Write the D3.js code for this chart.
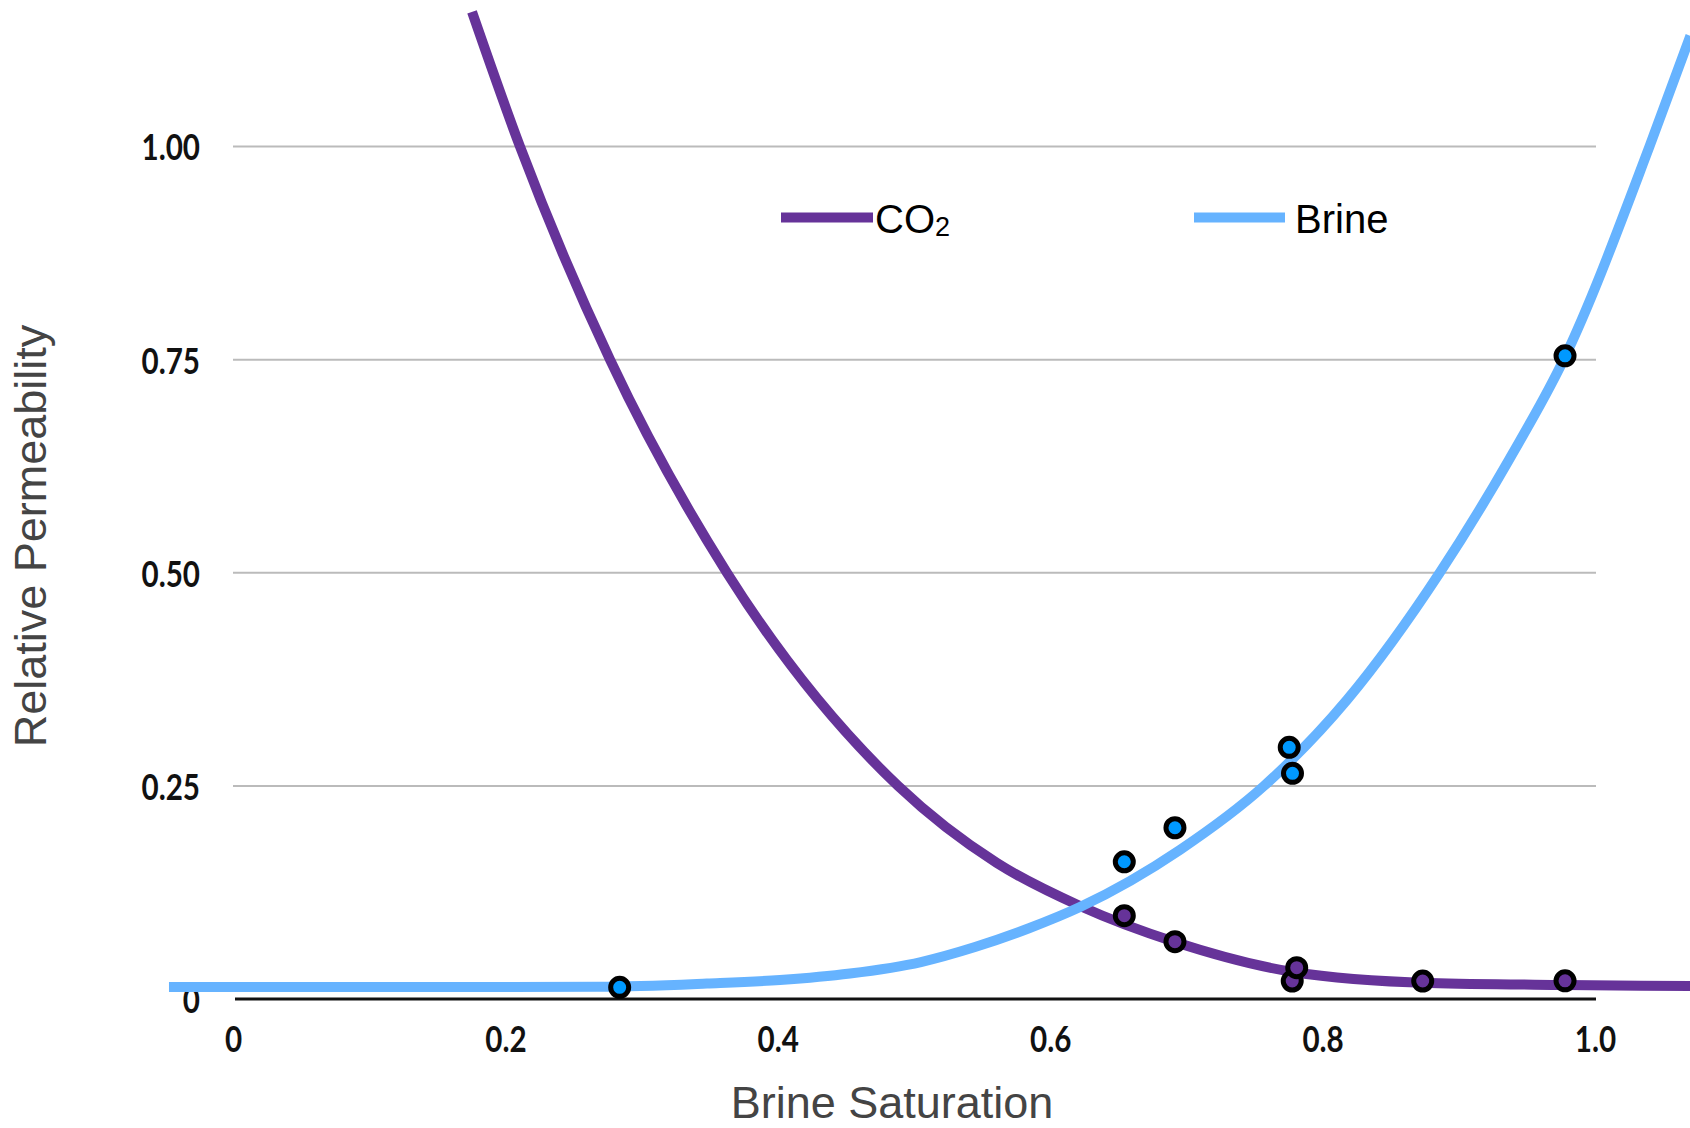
<!DOCTYPE html>
<html lang="en">
<head>
    <meta charset="UTF-8">
    <title>Relative Permeability</title>
    <style>
        body {
            margin: 0;
            background: #fff;
            overflow: hidden;
        }
        .tick-label {
            font-family: Lato, "Open Sans", sans-serif;
            font-weight: 700;
            font-size: 37px;
            fill: #111;
        }
        .axis-title {
            font-family: "Liberation Sans", Arial, sans-serif;
            font-size: 45px;
            fill: #444;
        }
        .legend-text {
            font-family: "Liberation Sans", Arial, sans-serif;
            font-size: 40px;
            fill: #000;
        }
    </style>
</head>
<body>
    <svg id="chart" width="1690" height="1128"></svg>

    <script src="https://d3js.org/d3.v7.min.js"></script>
    <script>
        // CO2 curve (gridline crossings mostly)
        const co2CurveX = [0.1755, 0.2107, 0.2768, 0.3627, 0.4883, 0.5609, 0.6219, 0.6916, 0.7783, 0.8789, 0.978, 1.0698];
        const co2CurveY = [1.158, 1.0, 0.75, 0.5, 0.25, 0.1595, 0.1091, 0.0669, 0.0317, 0.0188, 0.0164, 0.0152];

        // Brine curve
        const brineCurveX = [-0.047, 0.2, 0.2695, 0.348, 0.4016, 0.453, 0.5051, 0.5448, 0.5844, 0.6219,
            0.6953, 0.757, 0.818, 0.886, 0.937, 0.977, 1.04, 1.07];
        const brineCurveY = [0.0141, 0.0141, 0.0144, 0.0182, 0.0223, 0.0299, 0.0434, 0.061, 0.083, 0.1079,
            0.175, 0.25, 0.351, 0.5, 0.633, 0.75, 1.0, 1.13];

        // measured points
        const co2PointsX = [0.6544, 0.6916, 0.7777, 0.781, 0.8735, 0.978];
        const co2PointsY = [0.0977, 0.0672, 0.0211, 0.0367, 0.0211, 0.0213];
        const brinePointsX = [0.2839, 0.6544, 0.6916, 0.7755, 0.7779, 0.978];
        const brinePointsY = [0.0137, 0.161, 0.2009, 0.2953, 0.2648, 0.7546];

        const xTicks = [0, 0.2, 0.4, 0.6, 0.8, 1.0];
        const xTickLabels = ["0", "0.2", "0.4", "0.6", "0.8", "1.0"];
        const yTicks = [0, 0.25, 0.5, 0.75, 1.0];
        const yTickLabels = ["0", "0.25", "0.50", "0.75", "1.00"];

        const co2Color = "#663399";
        const brineColor = "#66b3ff";
        const brinePointColor = "#0099ff";

        const svg = d3.select("#chart");

        const x = d3.scaleLinear().domain([0, 1]).range([233, 1595]);
        const y = d3.scaleLinear().domain([0, 1]).range([999, 146.6]);

        // gridlines
        svg.append("g")
            .selectAll("line")
            .data(yTicks.filter(d => d > 0))
            .enter().append("line")
            .attr("x1", x(0)).attr("x2", x(1) + 1)
            .attr("y1", d => y(d)).attr("y2", d => y(d))
            .attr("stroke", "#bbb")
            .attr("stroke-width", 2);

        // x axis line
        svg.append("line")
            .attr("x1", x(0) + 2).attr("x2", x(1) + 1)
            .attr("y1", y(0)).attr("y2", y(0))
            .attr("stroke", "#111")
            .attr("stroke-width", 3);

        // y tick labels
        const yAxis = d3.axisLeft(y)
            .tickValues(yTicks)
            .tickSize(0)
            .tickPadding(0)
            .tickFormat((d, i) => yTickLabels[i]);
        const yg = svg.append("g").attr("transform", "translate(200,0)").call(yAxis);
        yg.select(".domain").remove();
        yg.selectAll("text")
            .attr("class", "tick-label")
            .attr("fill", null)
            .attr("dy", "0.36em");

        // x tick labels
        const xAxis = d3.axisBottom(x)
            .tickValues(xTicks)
            .tickSize(0)
            .tickPadding(0)
            .tickFormat((d, i) => xTickLabels[i]);
        const xg = svg.append("g").attr("transform", "translate(0,1052)").call(xAxis);
        xg.select(".domain").remove();
        xg.selectAll("text")
            .attr("class", "tick-label")
            .attr("fill", null)
            .attr("dy", 0);

        // squeeze tick labels to look like the narrow original face
        svg.selectAll(".tick-label").each(function () {
            const w = this.getComputedTextLength();
            d3.select(this)
                .attr("textLength", w * 0.8)
                .attr("lengthAdjust", "spacingAndGlyphs");
        });

        // curves
        const line = d3.line()
            .x(d => x(d[0]))
            .y(d => y(d[1]))
            .curve(d3.curveMonotoneX);

        const co2Curve = d3.zip(co2CurveX, co2CurveY);
        const brineCurve = d3.zip(brineCurveX, brineCurveY);

        svg.append("path")
            .datum(co2Curve)
            .attr("d", line)
            .attr("fill", "none")
            .attr("stroke", co2Color)
            .attr("stroke-width", 10);

        svg.append("path")
            .datum(brineCurve)
            .attr("d", line)
            .attr("fill", "none")
            .attr("stroke", brineColor)
            .attr("stroke-width", 10);

        // points
        svg.append("g")
            .selectAll("circle")
            .data(d3.zip(brinePointsX, brinePointsY))
            .enter().append("circle")
            .attr("cx", d => x(d[0]))
            .attr("cy", d => y(d[1]))
            .attr("r", 9)
            .attr("fill", brinePointColor)
            .attr("stroke", "#000")
            .attr("stroke-width", 5);

        svg.append("g")
            .selectAll("circle")
            .data(d3.zip(co2PointsX, co2PointsY))
            .enter().append("circle")
            .attr("cx", d => x(d[0]))
            .attr("cy", d => y(d[1]))
            .attr("r", 9)
            .attr("fill", co2Color)
            .attr("stroke", "#000")
            .attr("stroke-width", 5);

        // legend
        const legend = svg.append("g");
        legend.append("line")
            .attr("x1", 781).attr("x2", 873)
            .attr("y1", 217.5).attr("y2", 217.5)
            .attr("stroke", co2Color)
            .attr("stroke-width", 10);
        const co2Text = legend.append("text")
            .attr("class", "legend-text")
            .attr("x", 875).attr("y", 233);
        co2Text.append("tspan").text("CO");
        co2Text.append("tspan").attr("font-size", "27px").attr("dy", 3).text("2");

        legend.append("line")
            .attr("x1", 1194).attr("x2", 1285)
            .attr("y1", 217.5).attr("y2", 217.5)
            .attr("stroke", brineColor)
            .attr("stroke-width", 10);
        legend.append("text")
            .attr("class", "legend-text")
            .attr("x", 1295).attr("y", 233)
            .text("Brine");

        // axis titles
        svg.append("text")
            .attr("class", "axis-title")
            .attr("x", 892)
            .attr("y", 1118)
            .attr("text-anchor", "middle")
            .text("Brine Saturation");

        svg.append("text")
            .attr("class", "axis-title")
            .attr("transform", "translate(46,536) rotate(-90)")
            .attr("text-anchor", "middle")
            .text("Relative Permeability");
    </script>
</body>
</html>
